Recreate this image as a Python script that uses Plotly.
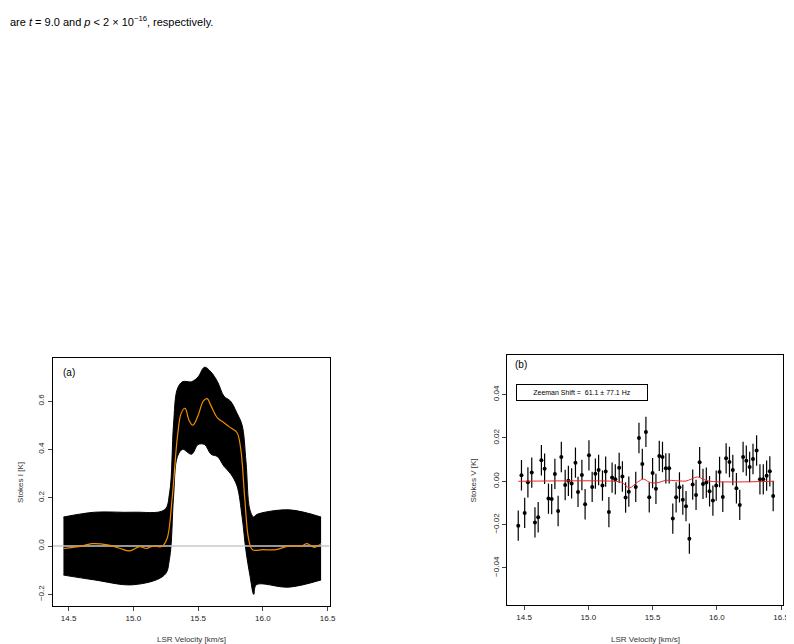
import plotly.graph_objects as go

# Panel (a) envelope of noisy Stokes I spectrum
env_x = [14.46,14.7,15.0,15.24,15.28,15.31,15.34,15.38,15.45,15.5,15.55,15.6,15.65,15.7,15.75,15.8,15.84,15.87,15.9,15.93,15.95,16.2,16.45]
env_hi = [0.12,0.14,0.14,0.15,0.22,0.5,0.65,0.68,0.68,0.7,0.74,0.72,0.68,0.62,0.6,0.55,0.5,0.35,0.15,0.12,0.13,0.15,0.12]
env_lo = [-0.12,-0.14,-0.16,-0.12,-0.05,0.2,0.37,0.4,0.38,0.42,0.42,0.38,0.37,0.33,0.3,0.25,0.12,-0.02,-0.12,-0.2,-0.16,-0.17,-0.14]
# Panel (a) fit
fit_x = [14.46,14.6,14.68,14.8,14.9,14.97,15.05,15.1,15.15,15.22,15.26,15.3,15.34,15.37,15.4,15.43,15.46,15.5,15.54,15.57,15.6,15.65,15.7,15.75,15.8,15.83,15.86,15.89,15.92,16.0,16.1,16.2,16.3,16.34,16.4,16.45]
fit_y = [-0.01,0,0.01,0.005,-0.01,-0.02,-0.002,-0.01,0,-0.002,0.03,0.2,0.45,0.55,0.57,0.52,0.5,0.54,0.6,0.61,0.58,0.53,0.51,0.49,0.47,0.4,0.2,0.03,-0.015,-0.015,-0.015,0,0,0.01,-0.005,0.01]

# Panel (b) Stokes V points
v_x = [14.455,14.48,14.505,14.53,14.56,14.585,14.61,14.635,14.66,14.69,14.715,14.74,14.765,14.79,14.82,14.845,14.87,14.9,14.92,14.95,14.975,15.005,15.03,15.055,15.08,15.11,15.135,15.16,15.185,15.21,15.24,15.265,15.29,15.315,15.369,15.394,15.42,15.448,15.474,15.5,15.526,15.552,15.577,15.603,15.629,15.657,15.683,15.709,15.735,15.76,15.786,15.812,15.838,15.866,15.892,15.918,15.943,15.969,15.995,16.021,16.046,16.072,16.098,16.124,16.152,16.178,16.204,16.229,16.255,16.281,16.309,16.335,16.361,16.387,16.412,16.438]
v_y = [-0.0205,0.0028,-0.0146,-0.0005,0.004,-0.019,-0.0166,0.0097,0.0058,-0.008,-0.0082,0.0034,-0.0137,0.0112,-0.0017,0.0002,-0.001,0.0086,-0.0049,0.0029,-0.0106,0.012,-0.0026,0.0035,0.0052,-0.002,0.0045,-0.0142,0.0017,0.0009,0.0062,0.0022,-0.0075,-0.0048,-0.0026,0.02,0.008,0.0228,-0.0074,0.0038,-0.0035,0.0117,0.0112,0.006,0.006,-0.0172,-0.0074,-0.0028,-0.0085,-0.0115,-0.0265,-0.0015,-0.0063,0.0088,-0.0012,-0.0006,-0.0046,-0.0089,-0.002,0.0043,-0.0072,0.0106,0.0089,0.0052,-0.0032,-0.0109,0.0112,0.0095,0.0066,0.0103,0.0142,0.0009,0.0009,0.0026,0.0046,-0.0068]
v_err = 0.007
# Panel (b) fit
vf_x = [14.455,15.2,15.26,15.32,15.38,15.43,15.47,15.5,15.55,15.6,15.7,15.76,15.8,15.85,15.9,15.95,16.44]
vf_y = [0,0,-0.0005,-0.003,-0.0005,0.001,-0.0003,-0.0008,-0.0005,0.0004,0.0002,0.0001,0.001,0.002,0.0008,0,0]

F = "Liberation Sans, Arial, sans-serif"
fig = go.Figure()
fig.add_trace(go.Scatter(x=env_x, y=env_lo, mode="lines", line=dict(color="black", width=1, shape="spline"), xaxis="x", yaxis="y", showlegend=False))
fig.add_trace(go.Scatter(x=env_x, y=env_hi, mode="lines", fill="tonexty", fillcolor="black", line=dict(color="black", width=1, shape="spline"), xaxis="x", yaxis="y", showlegend=False))
fig.add_trace(go.Scatter(x=[14.377, 16.515], y=[0, 0], mode="lines", line=dict(color="#c8c8c8", width=1.5), xaxis="x", yaxis="y", showlegend=False))
fig.add_trace(go.Scatter(x=fit_x, y=fit_y, mode="lines", line=dict(color="#f08c00", width=1.2, shape="spline"), xaxis="x", yaxis="y", showlegend=False))

fig.add_trace(go.Scatter(x=v_x, y=v_y, mode="markers", marker=dict(color="black", size=4),
                         error_y=dict(type="constant", value=v_err, color="black", thickness=1.2, width=0),
                         xaxis="x2", yaxis="y2", showlegend=False))
fig.add_trace(go.Scatter(x=vf_x, y=vf_y, mode="lines", line=dict(color="#e8262b", width=1, shape="spline"), xaxis="x2", yaxis="y2", showlegend=False))

ax = dict(showgrid=False, zeroline=False, showline=True, linecolor="black", linewidth=1, mirror=True,
          ticks="outside", ticklen=4, tickfont=dict(size=8, family=F, color="#222"))
fig.update_layout(
    width=794, height=644, margin=dict(l=0, r=0, t=0, b=0),
    plot_bgcolor="white", paper_bgcolor="white",
    xaxis=dict(ax, domain=[0.0567, 0.408], range=[14.377, 16.515], tickvals=[14.5, 15.0, 15.5, 16.0, 16.5], ticktext=["14.5","15.0","15.5","16.0","16.5"], anchor="y"),
    yaxis=dict(ax, domain=[0.0714, 0.4565], range=[-0.248, 0.778], tickvals=[-0.2, 0, 0.2, 0.4, 0.6], ticktext=["−0.2","0.0","0.2","0.4","0.6"], tickangle=-90, anchor="x"),
    xaxis2=dict(ax, domain=[0.6335, 0.9836], range=[14.369, 16.515], tickvals=[14.5, 15.0, 15.5, 16.0, 16.5], ticktext=["14.5","15.0","15.5","16.0","16.5"], anchor="y2"),
    yaxis2=dict(ax, domain=[0.073, 0.4612], range=[-0.0571, 0.0583], tickvals=[-0.04, -0.02, 0, 0.02, 0.04], ticktext=["−0.04","−0.02","0.00","0.02","0.04"], tickangle=-90, anchor="x2"),
)
ann = [
    dict(text="are <i>t</i> = 9.0 and <i>p</i> &lt; 2 × 10<sup>−16</sup>, respectively.", x=0.0, y=1-4/644, xref="paper", yref="paper", xanchor="left", yanchor="top", showarrow=False, font=dict(size=11, family=F, color="black")),
    dict(text="(a)", x=0.03, y=0.97, xref="x domain", yref="y domain", xanchor="left", yanchor="top", showarrow=False, font=dict(size=10, family=F, color="black")),
    dict(text="(b)", x=0.02, y=0.99, xref="x2 domain", yref="y2 domain", xanchor="left", yanchor="top", showarrow=False, font=dict(size=10, family=F, color="black")),
    dict(text="LSR Velocity [km/s]", x=(0.0567+0.408)/2, y=1-631/644, xref="paper", yref="paper", xanchor="center", yanchor="middle", showarrow=False, font=dict(size=8, family=F, color="#333")),
    dict(text="LSR Velocity [km/s]", x=(0.6335+0.9836)/2, y=1-631/644, xref="paper", yref="paper", xanchor="center", yanchor="middle", showarrow=False, font=dict(size=8, family=F, color="#333")),
    dict(text="Stokes I [K]", x=12/794, y=(0.0714+0.4565)/2, xref="paper", yref="paper", xanchor="center", yanchor="middle", textangle=-90, showarrow=False, font=dict(size=8, family=F, color="#333")),
    dict(text="Stokes V [K]", x=470/794, y=(0.073+0.4612)/2, xref="paper", yref="paper", xanchor="center", yanchor="middle", textangle=-90, showarrow=False, font=dict(size=8, family=F, color="#333")),
    dict(text="Zeeman Shift =  61.1 ± 77.1 Hz", x=578/794, y=1-384/644, xref="paper", yref="paper", xanchor="center", yanchor="middle", showarrow=False,
         font=dict(size=7, family=F, color="black"), bordercolor="black", borderwidth=1, borderpad=4, width=122, bgcolor="white"),
]
fig.update_layout(annotations=ann)
fig.write_html("out.html")
